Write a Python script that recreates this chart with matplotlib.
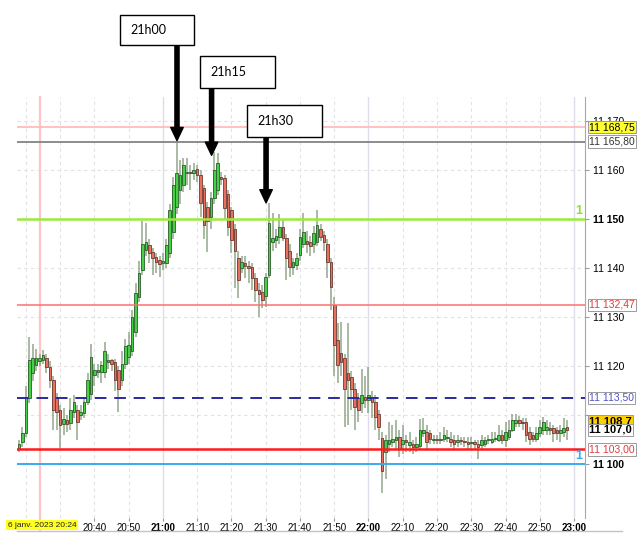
import numpy as np
import matplotlib
matplotlib.use("Agg")
import matplotlib.pyplot as plt
import matplotlib.transforms as mtransforms
from matplotlib.patches import Rectangle
from matplotlib.lines import Line2D

plt.rcParams['font.family'] = ['Liberation Sans Narrow', 'Liberation Sans', 'DejaVu Sans']

# one-minute candles, first one at 20:18 (minutes counted from 20:00)
first_minute = 18

opens = [
    11103.0, 11104.5, 11106.3, 11113.5, 11118.5, 11120.2, 11121.0, 11121.2, 11121.6, 11119.9, 11117.2, 11113.7,
    11111.0, 11108.2, 11109.0, 11108.3, 11110.7, 11111.0, 11110.0, 11110.4, 11112.7, 11114.4,
    11118.2, 11118.8, 11118.8, 11118.8, 11120.9, 11121.2, 11120.9, 11119.2, 11117.2, 11120.5,
    11121.8, 11123.0, 11127.0, 11134.0, 11139.5, 11143.7, 11144.7, 11143.3, 11142.3, 11141.6,
    11141.0, 11141.0, 11143.0, 11147.4, 11152.5, 11156.0, 11157.0, 11159.3, 11159.5, 11159.3,
    11160.2, 11159.0, 11156.3, 11152.5, 11150.5, 11154.2, 11156.0, 11158.6, 11158.3, 11155.2,
    11151.8, 11148.0, 11142.0, 11140.0, 11141.0, 11140.5, 11140.3, 11137.9, 11135.5, 11135.2,
    11134.2, 11138.5, 11145.4, 11145.8, 11146.4, 11148.4, 11146.1, 11143.5, 11140.3, 11140.7,
    11142.7, 11145.0, 11145.6, 11145.3, 11144.9, 11145.4, 11148.0, 11146.7, 11145.0, 11141.3,
    11132.5, 11125.3, 11122.6, 11121.6, 11118.5, 11117.8, 11115.4, 11113.4, 11112.4, 11113.7,
    11113.0, 11113.5, 11112.7, 11110.3, 11105.3, 11102.5, 11104.0, 11104.6, 11104.9, 11105.6,
    11104.2, 11104.9, 11103.9, 11104.2, 11103.5, 11103.7, 11106.3, 11106.6, 11106.3, 11104.9,
    11105.2, 11105.0, 11105.2, 11105.3, 11105.2, 11104.9, 11104.6, 11104.9, 11104.8, 11104.6,
    11104.3, 11104.6, 11104.2, 11103.9, 11104.2, 11104.9, 11104.6, 11105.2, 11104.9, 11105.9,
    11104.9, 11105.6, 11106.9, 11108.3, 11109.0, 11108.6, 11108.6, 11106.6, 11105.9, 11105.2,
    11106.3, 11106.9, 11106.9, 11107.3, 11107.3, 11106.9, 11106.3, 11106.6, 11107.6,
]
highs = [
    11105.0, 11107.6, 11116.0, 11126.0, 11124.6, 11123.5, 11122.5, 11123.3, 11122.5, 11121.0, 11118.0, 11114.5,
    11112.0, 11111.5, 11110.0, 11113.5, 11114.0, 11112.0, 11112.0, 11113.5, 11118.5, 11124.5,
    11120.5, 11120.5, 11121.0, 11125.0, 11122.5, 11121.5, 11121.5, 11120.0, 11123.0, 11125.5,
    11127.0, 11131.5, 11137.0, 11141.5, 11149.5, 11149.1, 11146.0, 11144.0, 11143.0, 11142.5,
    11143.0, 11146.0, 11153.0, 11158.5, 11165.8, 11162.0, 11162.5, 11162.5, 11161.0, 11161.5,
    11161.0, 11160.0, 11157.0, 11153.5, 11155.5, 11163.7, 11163.5, 11159.5, 11159.0, 11156.0,
    11152.5, 11149.0, 11143.5, 11142.5, 11142.5, 11141.5, 11141.0, 11139.0, 11137.0, 11136.5,
    11139.0, 11153.2, 11151.2, 11148.0, 11151.0, 11150.0, 11147.0, 11145.0, 11142.0, 11143.0,
    11148.0, 11151.2, 11147.5, 11146.5, 11148.5, 11151.8, 11149.0, 11147.5, 11146.0, 11142.0,
    11134.0, 11128.7, 11129.0, 11122.5, 11128.7, 11119.0, 11116.5, 11114.5, 11119.5, 11118.0,
    11119.9, 11115.0, 11114.0, 11111.0, 11106.5, 11106.0, 11108.5, 11108.0, 11109.0, 11107.0,
    11108.0, 11106.0, 11106.5, 11105.0, 11105.5, 11109.3, 11109.5, 11108.0, 11107.0, 11106.0,
    11106.0, 11106.5, 11107.5, 11107.0, 11106.5, 11106.0, 11106.0, 11105.5, 11105.5, 11105.5,
    11105.5, 11105.0, 11105.0, 11106.0, 11105.5, 11106.0, 11106.5, 11106.5, 11108.0, 11107.0,
    11108.5, 11109.0, 11110.3, 11110.3, 11109.8, 11109.5, 11109.5, 11107.5, 11106.5, 11107.5,
    11109.0, 11109.7, 11109.0, 11108.5, 11108.0, 11107.5, 11108.0, 11109.5, 11109.0,
]
lows = [
    11102.5, 11103.5, 11105.5, 11112.5, 11117.0, 11119.0, 11120.0, 11120.5, 11118.5, 11115.5, 11107.0, 11107.0,
    11103.2, 11106.0, 11106.5, 11107.0, 11109.5, 11105.0, 11109.0, 11109.5, 11112.0, 11113.0,
    11116.0, 11117.5, 11116.5, 11117.5, 11119.5, 11119.0, 11115.0, 11110.7, 11116.0, 11119.5,
    11120.5, 11122.0, 11126.0, 11133.0, 11138.5, 11142.5, 11141.0, 11138.6, 11139.0, 11138.2,
    11139.5, 11140.0, 11142.0, 11146.0, 11151.0, 11153.0, 11155.5, 11157.0, 11156.0, 11158.0,
    11157.5, 11150.5, 11146.0, 11143.3, 11148.0, 11153.0, 11155.0, 11157.0, 11150.0, 11146.5,
    11143.0, 11136.0, 11133.8, 11139.0, 11138.0, 11137.0, 11135.5, 11133.0, 11130.1, 11131.8,
    11132.0, 11138.0, 11143.5, 11144.0, 11145.0, 11145.5, 11137.5, 11138.2, 11138.5, 11139.5,
    11141.5, 11144.0, 11143.0, 11142.5, 11143.0, 11144.5, 11145.5, 11143.5, 11138.0, 11131.5,
    11118.0, 11116.5, 11118.0, 11107.6, 11108.0, 11111.0, 11107.0, 11108.5, 11110.5, 11111.5,
    11110.5, 11109.5, 11107.0, 11105.0, 11094.0, 11097.0, 11102.5, 11103.5, 11103.0, 11101.5,
    11102.0, 11102.5, 11102.5, 11102.0, 11102.5, 11103.0, 11105.5, 11103.0, 11104.0, 11104.0,
    11104.2, 11104.0, 11104.5, 11104.5, 11103.5, 11103.0, 11103.5, 11103.8, 11103.5, 11102.8,
    11103.0, 11103.0, 11101.0, 11103.0, 11103.5, 11104.0, 11104.0, 11104.5, 11104.5, 11104.0,
    11103.5, 11105.0, 11106.5, 11107.5, 11107.5, 11107.0, 11104.5, 11103.9, 11104.5, 11104.5,
    11105.5, 11106.0, 11106.0, 11106.0, 11104.5, 11105.0, 11104.5, 11105.5, 11105.0,
]
closes = [
    11104.0, 11106.3, 11113.5, 11121.2, 11121.6, 11121.6, 11121.6, 11122.2, 11119.9, 11117.2, 11111.0, 11110.7,
    11108.0, 11109.2, 11108.2, 11111.0, 11112.7, 11108.6, 11110.7, 11112.7, 11117.2, 11121.9,
    11119.2, 11119.2, 11120.2, 11123.0, 11121.2, 11120.5, 11117.2, 11115.4, 11120.5, 11124.0,
    11124.3, 11130.0, 11135.0, 11139.0, 11145.0, 11145.4, 11143.0, 11142.0, 11141.3, 11140.8,
    11141.5, 11144.7, 11151.8, 11156.9, 11159.3, 11159.0, 11161.0, 11159.6, 11159.3, 11160.0,
    11159.0, 11153.2, 11148.8, 11149.5, 11154.2, 11160.0, 11161.4, 11158.1, 11152.2, 11148.4,
    11145.7, 11143.5, 11137.5, 11141.3, 11140.5, 11140.0, 11137.9, 11135.5, 11134.8, 11133.5,
    11138.2, 11149.1, 11146.1, 11146.5, 11148.4, 11146.1, 11142.0, 11140.3, 11141.3, 11142.0,
    11146.4, 11147.4, 11145.0, 11144.5, 11147.1, 11148.8, 11146.4, 11145.4, 11141.3, 11136.2,
    11124.3, 11120.2, 11120.9, 11115.4, 11117.1, 11115.4, 11111.7, 11111.0, 11114.1, 11113.0,
    11114.0, 11112.7, 11109.7, 11107.6, 11098.5, 11105.0, 11104.9, 11105.2, 11105.6, 11103.0,
    11104.9, 11104.6, 11104.6, 11103.5, 11104.0, 11106.9, 11106.9, 11104.6, 11105.2, 11105.2,
    11105.0, 11105.2, 11105.9, 11105.6, 11104.6, 11104.2, 11104.9, 11104.8, 11104.6, 11104.2,
    11104.6, 11104.2, 11103.5, 11104.9, 11104.9, 11105.0, 11105.2, 11105.4, 11105.9, 11105.0,
    11106.6, 11106.9, 11109.0, 11109.0, 11108.3, 11108.3, 11105.9, 11105.2, 11105.2, 11106.3,
    11107.6, 11108.6, 11107.6, 11106.9, 11106.3, 11106.3, 11106.9, 11107.3, 11106.9,
]

# horizontal levels drawn on the chart
level_prices = [11168.75, 11165.80, 11150.0, 11132.47, 11113.50, 11103.00, 11100.0]
level_colors = ['#ffbcbc', '#8c8c8c', '#9aea3a', '#ff6f6f', '#2a2aa0', '#ff1a1a', '#3aaaf0']
level_widths = [1.3, 1.4, 1.8, 1.1, 1.4, 1.8, 1.4]
level_styles = ['-', '-', '-', '-', (0, (6, 4)), '-', '-']

# boxed labels on the price scale
box_prices = [11168.75, 11165.80, 11132.47, 11113.50, 11108.75, 11107.0, 11103.00]
box_texts = ['11 168,75', '11 165,80', '11 132,47', '11 113,50', '11 108,7', '11 107,0', '11 103,00']
box_fg = ['black', '#333333', '#e03a3a', '#5050c8', 'black', 'black', '#e03a3a']
box_bg = ['#ffff30', 'white', 'white', 'white', '#ffd000', 'white', 'white']
box_bold = [False, False, False, False, True, True, False]

y_ticks = [11100, 11110, 11120, 11130, 11140, 11150, 11160, 11170]
x_ticks = [40, 50, 60, 70, 80, 90, 100, 110, 120, 130, 140, 150, 160, 170, 180]
x_labels = ['20:40', '20:50', '21:00', '21:10', '21:20', '21:30', '21:40', '21:50',
            '22:00', '22:10', '22:20', '22:30', '22:40', '22:50', '23:00']
cursor_minute = 24
date_label = '6 janv. 2023 20:24'

# callouts: text, minute pointed at, price of arrow tip
callout_texts = ['21h00', '21h15', '21h30']
callout_minutes = [64.1, 74.2, 90.1]
callout_tips = [11166.0, 11163.0, 11153.3]

W, H = 638, 543
fig = plt.figure(figsize=(W / 100, H / 100), dpi=100)
ax = fig.add_axes([17 / W, 1 - 518 / H, (585 - 17) / W, (518 - 97) / H])

x = first_minute + np.arange(len(closes))
o = np.array(opens); c = np.array(closes)
hi = np.array(highs); lo = np.array(lows)

# grid
for m in range(20, 184, 10):
    if m % 60 == 0:
        ax.axvline(m, color='#dedeea', lw=1.0, zorder=0)
    else:
        ax.axvline(m, color='#e2e2e2', lw=0.8, ls=(0, (3, 3)), zorder=0)
for v in y_ticks:
    ax.axhline(v, color='#e2e2e2', lw=0.8, ls=(0, (3, 3)), zorder=0)

ax.axvline(cursor_minute, ymin=-0.03, ymax=1, color='#ffc4c4', lw=1.6, zorder=1, clip_on=False)

# candles
up = c >= o
ax.vlines(x, lo, hi, color='#7f9878', lw=1.1, alpha=0.85, zorder=2)
bottoms = np.minimum(o, c)
heights = np.maximum(np.abs(c - o), 0.15)
ax.bar(x, heights, bottom=bottoms, width=0.76,
       color=np.where(up, '#46d046', '#e8705e'),
       edgecolor=np.where(up, '#2c5c2c', '#6a3a30'), linewidth=0.6, zorder=3)

for p, col, lw, ls in zip(level_prices, level_colors, level_widths, level_styles):
    ax.axhline(p, color=col, lw=lw, ls=ls, zorder=4)

ax.set_xlim(17.4, 183.2)
ax.set_ylim(11089.0, 11174.9)

for s in ['top', 'left', 'bottom']:
    ax.spines[s].set_visible(False)
ax.spines['right'].set_color('#a8a8a8')

# the 11 110 label sits under the last-price boxes in the reference
ax.yaxis.tick_right()
ax.set_yticks(y_ticks)
ax.set_yticklabels(['' if v == 11110 else '%d %03d' % (v // 1000, v % 1000) for v in y_ticks])
ax.tick_params(axis='y', direction='out', length=3, color='#999999', labelsize=7.5, pad=3)
for lab, v in zip(ax.get_yticklabels(), y_ticks):
    if v in (11150, 11100):
        lab.set_fontweight('bold')

ax.set_xticks(x_ticks)
ax.set_xticklabels(x_labels)
ax.tick_params(axis='x', direction='out', length=2, color='#999999', labelsize=7, pad=1.5)
for lab, m in zip(ax.get_xticklabels(), x_ticks):
    if m % 60 == 0:
        lab.set_fontweight('bold')

ax.text(-0.016, -0.017, date_label, transform=ax.transAxes, ha='left', va='center',
        fontsize=6, color='#222222', zorder=6,
        bbox=dict(facecolor='#ffff20', edgecolor='none', pad=1.0))

# labels on the right price scale
trans = mtransforms.blended_transform_factory(ax.transAxes, ax.transData)
for p, t, fg, bg, b in zip(box_prices, box_texts, box_fg, box_bg, box_bold):
    ax.annotate(t, xy=(1, p), xycoords=trans, xytext=(3, 0), textcoords='offset points',
                ha='left', va='center', fontsize=8 if b else 7.5, color=fg,
                fontweight='bold' if b else 'normal', zorder=7, annotation_clip=False,
                bbox=dict(facecolor=bg, edgecolor='#9a9a9a', lw=0.7, pad=0.8))
ax.text(0.996, 11150.5, '1', transform=trans, ha='right', va='bottom', fontsize=9,
        color='#8fe030', fontweight='bold', zorder=6)
ax.text(0.996, 11100.5, '1', transform=trans, ha='right', va='bottom', fontsize=9,
        color='#3aaaf0', fontweight='bold', zorder=6)

fig.add_artist(Line2D([17 / W, 622 / W], [1 - 531 / H] * 2, transform=fig.transFigure,
                      color='#c4c4c4', lw=1))

# callout boxes and arrows
box_px = [(120, 15, 74, 30), (200, 56, 75, 32), (247, 105, 75, 32)]
for (bx, by, bw, bh), txt, m, tip in zip(box_px, callout_texts, callout_minutes, callout_tips):
    fig.add_artist(Rectangle((bx / W, 1 - (by + bh) / H), bw / W, bh / H,
                             transform=fig.transFigure, facecolor='white',
                             edgecolor='black', lw=1.0))
    fig.text((bx + 10) / W, 1 - (by + bh / 2) / H, txt, ha='left', va='center',
             fontsize=9, family=['Lato', 'DejaVu Sans'], color='black')
    ax.annotate('', xy=(m, tip), xycoords='data',
                xytext=(m, H - (by + bh)), textcoords=('data', 'figure pixels'),
                arrowprops=dict(facecolor='black', edgecolor='black', width=3.0,
                                headwidth=9, headlength=9.5, shrink=0),
                annotation_clip=False, zorder=8)

fig.savefig('out.png', dpi=100)
